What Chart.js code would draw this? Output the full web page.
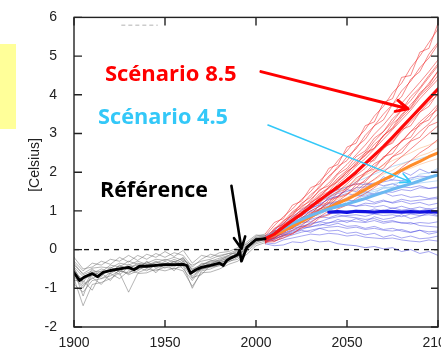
<!DOCTYPE html>
<html><head><meta charset="utf-8">
<script src="https://cdn.jsdelivr.net/npm/chart.js@4"></script>
<style>html,body{margin:0;padding:0;overflow:hidden;background:#fff}#wrap{position:relative;width:480px;height:351px}</style>
</head><body><div id="wrap"><canvas id="c" width="480" height="351"></canvas></div>
<script>
// ---------- DATA ----------
const histYears = [1900,1905,1910,1915,1920,1925,1930,1935,1940,1945,1950,1955,1960,1965,1970,1975,1980,1985,1990,1995,2000,2005];
const futYears  = [2005,2010,2015,2020,2025,2030,2035,2040,2045,2050,2055,2060,2065,2070,2075,2080,2085,2090,2095,2100];

const refYears = [1900,1903,1906,1910,1913,1916,1920,1925,1930,1933,1936,1940,1945,1950,1955,1960,1962,1964,1967,1970,1975,1980,1982,1984,1986,1988,1990,1991,1992,1995,1998,2000,2005];
const refMean  = [-0.59,-0.80,-0.70,-0.62,-0.70,-0.59,-0.54,-0.50,-0.46,-0.52,-0.43,-0.43,-0.41,-0.39,-0.39,-0.38,-0.41,-0.61,-0.52,-0.46,-0.41,-0.35,-0.41,-0.28,-0.22,-0.18,-0.13,-0.02,-0.30,0.06,0.18,0.26,0.28];

const greyMembers = [
  [-0.3,-0.55,-0.35,-0.4,-0.25,-0.3,-0.15,-0.28,-0.12,-0.2,-0.05,-0.18,-0.02,-0.35,-0.15,-0.2,-0.08,-0.05,0.05,0.15,0.35,0.4],
  [-0.75,-1.45,-0.9,-0.85,-0.75,-0.6,-1.1,-0.62,-0.6,-0.5,-0.55,-0.48,-0.55,-0.95,-0.6,-0.58,-0.5,-0.38,-0.3,-0.12,0.1,0.18],
  [-0.5,-0.85,-0.5,-0.7,-0.45,-0.58,-0.38,-0.5,-0.3,-0.45,-0.3,-0.42,-0.25,-0.5,-0.4,-0.32,-0.28,-0.15,-0.05,0.1,0.22,0.3],
  [-0.9,-1.1,-0.8,-0.75,-0.68,-0.55,-0.62,-0.45,-0.55,-0.38,-0.48,-0.3,-0.5,-0.8,-0.5,-0.45,-0.42,-0.3,-0.25,0.0,0.3,0.25],
  [-0.45,-0.7,-0.62,-0.5,-0.58,-0.42,-0.5,-0.35,-0.42,-0.3,-0.38,-0.25,-0.35,-0.62,-0.35,-0.38,-0.25,-0.18,-0.12,0.05,0.28,0.32],
  [-0.65,-0.95,-0.72,-0.9,-0.62,-0.75,-0.55,-0.6,-0.5,-0.55,-0.45,-0.5,-0.42,-1.0,-0.55,-0.5,-0.4,-0.32,-0.2,-0.05,0.15,0.22],
  [-0.2,-0.5,-0.45,-0.3,-0.38,-0.2,-0.32,-0.15,-0.25,-0.1,-0.2,-0.08,-0.15,-0.45,-0.25,-0.12,-0.18,-0.1,0.0,0.2,0.38,0.35],
  [-0.8,-0.8,-1.05,-0.6,-0.8,-0.5,-0.65,-0.55,-0.4,-0.6,-0.35,-0.55,-0.3,-0.72,-0.65,-0.4,-0.35,-0.25,-0.18,0.0,0.18,0.28],
  [-0.55,-1.2,-0.6,-0.65,-0.5,-0.65,-0.45,-0.4,-0.48,-0.32,-0.42,-0.35,-0.2,-0.55,-0.42,-0.28,-0.3,-0.22,-0.08,0.12,0.25,0.3],
  [-0.35,-0.65,-0.55,-0.58,-0.4,-0.45,-0.3,-0.38,-0.35,-0.25,-0.28,-0.2,-0.28,-0.4,-0.3,-0.25,-0.15,-0.1,-0.1,0.08,0.3,0.35],
  [-0.62,-0.75,-0.68,-0.55,-0.62,-0.48,-0.45,-0.52,-0.38,-0.42,-0.35,-0.4,-0.36,-0.68,-0.5,-0.42,-0.32,-0.28,-0.15,0.02,0.2,0.26],
  [-0.48,-0.9,-0.75,-0.62,-0.52,-0.55,-0.6,-0.42,-0.45,-0.4,-0.42,-0.3,-0.4,-0.75,-0.45,-0.35,-0.3,-0.2,-0.18,0.08,0.24,0.3],
  [-0.7,-1.0,-0.58,-0.75,-0.6,-0.4,-0.52,-0.5,-0.32,-0.48,-0.4,-0.45,-0.3,-0.6,-0.52,-0.45,-0.38,-0.22,-0.1,0.0,0.28,0.25],
  [-0.4,-0.62,-0.48,-0.45,-0.48,-0.35,-0.4,-0.3,-0.38,-0.35,-0.25,-0.32,-0.22,-0.52,-0.38,-0.3,-0.22,-0.15,-0.02,0.15,0.32,0.36]
];

const rcp85Mean = [0.28,0.4,0.58,0.75,0.92,1.1,1.28,1.45,1.62,1.8,2.0,2.22,2.44,2.66,2.9,3.15,3.4,3.65,3.9,4.15];
const rcp45Orange = [0.28,0.38,0.48,0.6,0.72,0.85,0.97,1.08,1.2,1.3,1.42,1.55,1.68,1.8,1.92,2.05,2.17,2.28,2.4,2.5];
const rcp45LightBlue = [0.3,0.42,0.55,0.68,0.78,0.88,0.97,1.05,1.12,1.18,1.25,1.32,1.4,1.48,1.56,1.63,1.7,1.78,1.86,1.93];
const rcp26Mean = [null,null,null,null,null,null,null,0.97,0.98,0.96,0.99,0.98,0.97,0.99,0.98,0.97,0.98,0.97,0.98,0.97];

const redMembers = [
  [0.35,0.62,0.85,1.05,1.3,1.5,1.78,2.0,2.3,2.55,2.85,3.1,3.45,3.7,4.05,4.3,4.7,5.0,5.35,5.7],
  [0.25,0.5,0.72,0.98,1.15,1.42,1.6,1.9,2.1,2.4,2.6,2.95,3.2,3.5,3.75,4.1,4.35,4.7,4.95,5.3],
  [0.3,0.45,0.6,0.85,1.0,1.2,1.45,1.6,1.85,2.05,2.3,2.5,2.8,3.05,3.3,3.6,3.85,4.15,4.45,4.75],
  [0.2,0.38,0.55,0.7,0.92,1.05,1.3,1.45,1.7,1.9,2.15,2.35,2.6,2.85,3.1,3.35,3.6,3.9,4.15,4.4],
  [0.28,0.35,0.5,0.65,0.8,1.0,1.12,1.35,1.5,1.7,1.92,2.1,2.35,2.6,2.8,3.05,3.3,3.55,3.8,4.0],
  [0.22,0.3,0.45,0.58,0.72,0.88,1.05,1.2,1.38,1.55,1.75,1.95,2.15,2.38,2.6,2.8,3.05,3.3,3.5,3.75],
  [0.18,0.25,0.38,0.5,0.62,0.8,0.95,1.1,1.25,1.42,1.6,1.8,2.0,2.2,2.4,2.6,2.82,3.05,3.25,3.5],
  [0.3,0.22,0.3,0.42,0.55,0.7,0.85,1.0,1.15,1.3,1.45,1.65,1.82,2.0,2.2,2.4,2.6,2.8,3.0,3.2],
  [0.15,0.42,0.68,0.9,1.2,1.35,1.65,1.85,2.15,2.3,2.65,2.85,3.2,3.35,3.75,3.95,4.4,4.6,5.05,5.35],
  [0.25,0.32,0.62,0.7,0.98,1.08,1.38,1.5,1.78,1.95,2.25,2.42,2.72,2.92,3.25,3.45,3.75,4.0,4.3,4.6],
  [0.2,0.48,0.52,0.8,0.85,1.15,1.2,1.5,1.55,1.85,1.95,2.25,2.3,2.65,2.75,3.1,3.2,3.55,3.7,4.05],
  [0.32,0.28,0.5,0.55,0.78,0.82,1.05,1.12,1.35,1.42,1.68,1.75,2.0,2.1,2.4,2.5,2.8,2.9,3.2,3.3],
  [0.4,0.7,0.8,1.15,1.25,1.6,1.7,2.1,2.2,2.65,2.75,3.2,3.3,3.8,3.9,4.45,4.5,5.1,5.2,5.85],
  [0.22,0.55,0.65,0.95,1.08,1.3,1.52,1.72,1.98,2.2,2.45,2.7,2.98,3.22,3.5,3.78,4.05,4.32,4.6,4.9],
  [0.26,0.4,0.66,0.78,1.05,1.18,1.4,1.58,1.8,2.0,2.2,2.45,2.62,2.95,3.12,3.42,3.65,3.98,4.2,4.5],
  [0.18,0.3,0.42,0.62,0.7,0.95,1.02,1.28,1.35,1.62,1.7,2.0,2.08,2.4,2.48,2.82,2.9,3.25,3.35,3.7],
  [0.3,0.36,0.52,0.6,0.82,0.9,1.15,1.22,1.48,1.58,1.85,1.98,2.22,2.35,2.62,2.78,3.05,3.2,3.45,3.62],
  [0.2,0.2,0.35,0.4,0.58,0.62,0.82,0.9,1.05,1.15,1.32,1.45,1.6,1.78,1.92,2.12,2.3,2.5,2.65,2.85],
  [0.32,0.52,0.75,0.88,1.12,1.25,1.55,1.65,1.95,2.1,2.4,2.55,2.88,3.05,3.38,3.6,3.95,4.18,4.5,4.8],
  [0.24,0.46,0.58,0.82,0.95,1.22,1.35,1.62,1.75,2.02,2.18,2.5,2.62,2.95,3.15,3.5,3.68,4.05,4.25,4.62]
];

const blueMembers = [
  [0.3,0.45,0.6,0.78,0.95,1.1,1.25,1.35,1.45,1.5,1.6,1.62,1.7,1.75,1.8,1.78,1.85,1.9,1.88,1.95],
  [0.25,0.4,0.52,0.7,0.82,0.98,1.05,1.2,1.25,1.32,1.4,1.38,1.45,1.5,1.48,1.55,1.52,1.6,1.58,1.62],
  [0.28,0.35,0.5,0.6,0.75,0.85,0.95,1.02,1.1,1.15,1.12,1.2,1.18,1.25,1.22,1.3,1.25,1.28,1.3,1.32],
  [0.22,0.38,0.45,0.58,0.65,0.78,0.85,0.92,0.95,1.0,1.02,0.98,1.05,1.0,1.08,1.02,1.05,1.1,1.04,1.08],
  [0.3,0.32,0.42,0.5,0.6,0.68,0.72,0.8,0.85,0.88,0.9,0.86,0.92,0.88,0.9,0.85,0.92,0.88,0.9,0.86],
  [0.2,0.28,0.35,0.45,0.52,0.6,0.62,0.7,0.72,0.75,0.72,0.7,0.75,0.68,0.72,0.7,0.66,0.7,0.68,0.72],
  [0.25,0.22,0.3,0.38,0.45,0.5,0.55,0.58,0.6,0.55,0.58,0.52,0.55,0.5,0.48,0.52,0.45,0.5,0.46,0.48],
  [0.18,0.15,0.25,0.3,0.35,0.4,0.38,0.42,0.4,0.35,0.38,0.32,0.3,0.28,0.3,0.25,0.22,0.2,0.25,0.22],
  [0.15,0.1,0.12,0.2,0.18,0.25,0.2,0.22,0.15,0.12,0.1,0.05,0.08,0.02,0.05,-0.05,0.0,-0.1,-0.05,-0.15],
  [0.35,0.5,0.68,0.85,1.02,1.15,1.3,1.42,1.55,1.62,1.7,1.68,1.72,1.65,1.7,1.62,1.6,1.65,1.58,1.6],
  [0.25,0.42,0.55,0.72,0.88,1.0,1.12,1.18,1.22,1.28,1.25,1.3,1.22,1.28,1.2,1.25,1.18,1.22,1.15,1.2],
  [0.2,0.3,0.48,0.55,0.7,0.72,0.85,0.82,0.9,0.85,0.82,0.78,0.8,0.72,0.75,0.68,0.7,0.62,0.6,0.58],
  [0.28,0.48,0.58,0.8,0.9,1.08,1.15,1.32,1.38,1.55,1.5,1.72,1.65,1.88,1.8,2.02,1.92,2.08,1.98,2.05],
  [0.22,0.36,0.4,0.55,0.6,0.65,0.72,0.68,0.78,0.7,0.8,0.72,0.85,0.78,0.82,0.9,0.8,0.86,0.95,0.88],
  [0.3,0.26,0.38,0.42,0.5,0.45,0.55,0.48,0.5,0.42,0.45,0.38,0.42,0.32,0.38,0.3,0.35,0.28,0.3,0.35],
  [0.2,0.35,0.5,0.62,0.78,0.92,1.0,1.1,1.08,1.18,1.12,1.15,1.1,1.14,1.06,1.12,1.05,1.0,1.06,0.98],
  [0.26,0.3,0.36,0.48,0.56,0.58,0.66,0.62,0.68,0.6,0.62,0.55,0.6,0.52,0.55,0.48,0.44,0.5,0.4,0.45],
  [0.24,0.44,0.62,0.76,0.9,1.05,1.18,1.3,1.38,1.45,1.4,1.5,1.42,1.48,1.38,1.42,1.35,1.38,1.32,1.36]
];

const lightBlueMembers = [
  [0.28,0.45,0.62,0.8,0.95,1.1,1.25,1.38,1.5,1.62,1.75,1.85,1.95,2.05,2.15,2.22,2.3,2.35,2.42,2.5],
  [0.25,0.38,0.5,0.62,0.75,0.88,1.0,1.1,1.2,1.3,1.4,1.48,1.55,1.62,1.7,1.75,1.8,1.85,1.9,1.95],
  [0.3,0.4,0.55,0.68,0.82,0.92,1.05,1.15,1.22,1.32,1.38,1.45,1.5,1.58,1.6,1.65,1.68,1.72,1.75,1.78],
  [0.26,0.42,0.48,0.66,0.7,0.86,0.9,1.05,1.08,1.25,1.28,1.42,1.45,1.6,1.62,1.78,1.8,1.95,1.98,2.1]
];
const orangeMembers = [
  [0.28,0.45,0.6,0.78,0.92,1.08,1.22,1.38,1.5,1.65,1.8,1.92,2.05,2.18,2.3,2.4,2.5,2.62,2.7,2.8],
  [0.22,0.35,0.48,0.6,0.72,0.85,0.98,1.1,1.22,1.35,1.48,1.6,1.72,1.82,1.92,2.02,2.1,2.2,2.28,2.35],
  [0.3,0.42,0.52,0.68,0.8,0.95,1.05,1.2,1.3,1.45,1.55,1.7,1.8,1.95,2.05,2.2,2.3,2.42,2.5,2.62]
];

const zeroLineYears = [1900, 2100];
const zeroLineVals = [0, 0];

const yTicks = [-2,-1,0,1,2,3,4,5,6];
const xTicks = [1900,1950,2000,2050,2100];

const yTitle = '[Celsius]';
const annTexts = ['Scénario 8.5', 'Scénario 4.5', 'Référence'];

// ---------- BUILD ----------
function pts(xs, ys){ const out=[]; xs.forEach((x,i)=>{ if(ys[i]!==null && ys[i]!==undefined) out.push({x:x, y:ys[i]}); }); return out; }
function line(data, color, width, order, extra){
  return Object.assign({data:data, borderColor:color, borderWidth:width, pointRadius:0, fill:false, tension:0, order:order, borderJoinStyle:'round', borderCapStyle:'round'}, extra||{});
}
const datasets = [];
datasets.push(line(pts(refYears, refMean), '#000000', 2.8, 1));
datasets.push(line(pts(futYears, rcp85Mean), '#ff0a0a', 3.2, 2));
datasets.push(line(pts(futYears, rcp45LightBlue), '#6ab8f0', 3, 3));
datasets.push(line(pts(futYears, rcp45Orange), '#ff8c2a', 3, 4));
datasets.push(line(pts(futYears, rcp26Mean), '#1010e0', 3.2, 5));
redMembers.forEach(m => datasets.push(line(pts(futYears, m), 'rgba(238,36,36,0.6)', 0.9, 10)));
lightBlueMembers.forEach(m => datasets.push(line(pts(futYears, m), 'rgba(120,180,240,0.55)', 0.9, 11)));
orangeMembers.forEach(m => datasets.push(line(pts(futYears, m), 'rgba(250,170,110,0.55)', 0.9, 11)));
blueMembers.forEach(m => datasets.push(line(pts(futYears, m), 'rgba(60,60,225,0.5)', 0.9, 12)));
greyMembers.forEach(m => datasets.push(line(pts(histYears, m), 'rgba(105,105,105,0.55)', 0.9, 13)));
datasets.push(line(pts(zeroLineYears, zeroLineVals), '#111', 1.3, 20, {borderDash:[5,5], borderCapStyle:'butt'}));

const decor = {
  id:'decor',
  beforeDraw(chart){
    const ctx = chart.ctx;
    ctx.save();
    ctx.fillStyle = '#ffff99';
    ctx.fillRect(0, 44, 16, 85);
    ctx.restore();
  },
  afterDatasetsDraw(chart){
    const ctx = chart.ctx, a = chart.chartArea, xs = chart.scales.x, ys = chart.scales.y;
    ctx.save();
    // y title
    ctx.save();
    ctx.translate(35, 165); ctx.rotate(-Math.PI/2);
    ctx.fillStyle = '#222'; ctx.font = '14px "Liberation Sans", Arial, sans-serif';
    ctx.textAlign = 'center'; ctx.textBaseline = 'middle';
    ctx.fillText(yTitle, 0, 0);
    ctx.restore();
    // faint legend remnant
    ctx.strokeStyle = 'rgba(170,170,170,0.6)'; ctx.lineWidth = 1.5; ctx.setLineDash([4,3]);
    ctx.beginPath(); ctx.moveTo(xs.getPixelForValue(1926), ys.getPixelForValue(5.8)); ctx.lineTo(xs.getPixelForValue(1946), ys.getPixelForValue(5.8)); ctx.stroke();
    ctx.setLineDash([]);
    // frame
    ctx.strokeStyle = '#222'; ctx.lineWidth = 1.4;
    ctx.strokeRect(a.left, a.top, a.right - a.left, a.bottom - a.top);
    ctx.beginPath();
    xTicks.forEach(v => { const px = xs.getPixelForValue(v); ctx.moveTo(px, a.bottom); ctx.lineTo(px, a.bottom - 7); ctx.moveTo(px, a.top); ctx.lineTo(px, a.top + 8); });
    yTicks.forEach(v => { const py = ys.getPixelForValue(v); ctx.moveTo(a.left, py); ctx.lineTo(a.left + 8, py); ctx.moveTo(a.right, py); ctx.lineTo(a.right - 7, py); });
    ctx.stroke();
    // arrows
    function arrow(x1,y1,x2,y2,color,w,head){
      const X1=xs.getPixelForValue(x1), Y1=ys.getPixelForValue(y1), X2=xs.getPixelForValue(x2), Y2=ys.getPixelForValue(y2);
      const ang = Math.atan2(Y2-Y1, X2-X1);
      ctx.strokeStyle=color; ctx.lineWidth=w; ctx.lineCap='round'; ctx.lineJoin='round';
      ctx.beginPath(); ctx.moveTo(X1,Y1); ctx.lineTo(X2,Y2);
      ctx.moveTo(X2 - head*Math.cos(ang-0.45), Y2 - head*Math.sin(ang-0.45)); ctx.lineTo(X2,Y2);
      ctx.lineTo(X2 - head*Math.cos(ang+0.45), Y2 - head*Math.sin(ang+0.45));
      ctx.stroke();
    }
    arrow(2002.7, 4.6, 2083.5, 3.64, '#ff0000', 3, 13);
    arrow(2006.6, 3.22, 2084.9, 1.75, '#33c8f8', 1.6, 11);
    arrow(1986.5, 1.65, 1992.0, 0.02, '#000000', 2.6, 13);
    // texts
    ctx.textBaseline = 'alphabetic'; ctx.textAlign = 'left';
    ctx.font = 'bold 22px "Open Sans"';
    const tcol = ['#ff0000', '#33c8f8', '#000000'];
    const tx = [1917, 1913.2, 1914.3], ty = [4.36, 3.24, 1.35], tw = [132, 130, 108];
    annTexts.forEach((t,i) => { ctx.fillStyle = tcol[i]; ctx.fillText(t, xs.getPixelForValue(tx[i]), ys.getPixelForValue(ty[i]), tw[i]); });
    ctx.restore();
  }
};

new Chart(document.getElementById('c'), {
  type: 'line',
  data: { datasets: datasets },
  options: {
    responsive: false, animation: false, devicePixelRatio: 1,
    layout: { padding: { top: 16, right: 42, left: 0, bottom: 0 } },
    plugins: { legend: { display: false }, tooltip: { enabled: false } },
    scales: {
      x: {
        type: 'linear', min: 1900, max: 2100,
        afterBuildTicks: s => { s.ticks = xTicks.map(v => ({value: v})); },
        afterFit: s => { s.height = 24; },
        grid: { display: false }, border: { display: false },
        ticks: { color: '#222', font: { family: '"Liberation Sans", Arial, sans-serif', size: 14 }, padding: 0, maxRotation: 0, autoSkip: false, callback: v => String(v) }
      },
      y: {
        type: 'linear', min: -2, max: 6,
        afterBuildTicks: s => { s.ticks = yTicks.map(v => ({value: v})); },
        afterFit: s => { s.width = 74; },
        grid: { display: false }, border: { display: false },
        ticks: { color: '#222', font: { family: '"Liberation Sans", Arial, sans-serif', size: 14 }, padding: 9, callback: v => String(v) }
      }
    }
  },
  plugins: [decor]
});
</script></body></html>
